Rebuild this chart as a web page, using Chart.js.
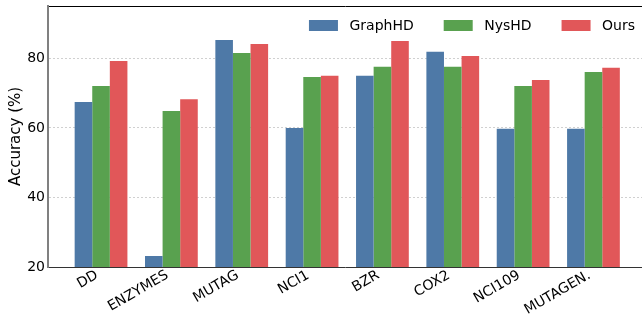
<!DOCTYPE html>
<html>
<head>
<meta charset="utf-8">
<script src="https://cdn.jsdelivr.net/npm/chart.js@4.4.1/dist/chart.umd.min.js"></script>
<style>
    html, body { margin: 0; padding: 0; background: #fff; }
    #wrap { width: 642px; height: 320px; position: relative; }
</style>
</head>
<body>
<div id="wrap"><canvas id="chart"></canvas></div>
<script>
const categories = ['DD', 'ENZYMES', 'MUTAG', 'NCI1', 'BZR', 'COX2', 'NCI109', 'MUTAGEN.'];
const graphHD = [67.5, 23.2, 85.3, 60.0, 75.0, 81.9, 59.8, 59.8];
const nysHD = [72.1, 64.9, 81.6, 74.7, 77.6, 77.6, 72.1, 76.1];
const ours = [79.3, 68.3, 84.2, 75.0, 85.0, 80.7, 73.8, 77.3];
const yTicks = [20, 40, 60, 80];

const toPoints = vals => vals.map((v, i) => ({ x: i, y: v }));

// legend drawn inside the plot, top right, like the matplotlib one
const insideLegend = {
    id: 'insideLegend',
    afterDraw(chart) {
        const ctx = chart.ctx;
        const area = chart.chartArea;
        const boxW = 29, boxH = 11, textGap = 11.5, itemGap = 30;
        ctx.save();
        ctx.font = '14px "DejaVu Sans"';
        ctx.textBaseline = 'middle';
        ctx.textAlign = 'left';
        const items = chart.data.datasets.map(ds => ({
            label: ds.label,
            color: ds.backgroundColor,
            w: ctx.measureText(ds.label).width
        }));
        let total = 0;
        items.forEach((it, i) => {
            total += boxW + textGap + it.w + (i < items.length - 1 ? itemGap : 0);
        });
        let x = area.right - 7 - total;
        const y = area.top + 14;
        items.forEach(it => {
            ctx.fillStyle = it.color;
            ctx.fillRect(x, y, boxW, boxH);
            ctx.fillStyle = '#000';
            ctx.fillText(it.label, x + boxW + textGap, y + boxH / 2 + 0.5);
            x += boxW + textGap + it.w + itemGap;
        });
        ctx.restore();
    }
};

Chart.defaults.font.family = '"DejaVu Sans", sans-serif';
Chart.defaults.font.size = 14;
Chart.defaults.color = '#000';

new Chart(document.getElementById('chart'), {
    type: 'bar',
    data: {
        datasets: [{
            label: 'GraphHD',
            data: toPoints(graphHD),
            backgroundColor: '#4e79a7'
        }, {
            label: 'NysHD',
            data: toPoints(nysHD),
            backgroundColor: '#59a14f'
        }, {
            label: 'Ours',
            data: toPoints(ours),
            backgroundColor: '#e15759'
        }]
    },
    options: {
        responsive: true,
        maintainAspectRatio: false,
        animation: false,
        categoryPercentage: 0.75,
        barPercentage: 1.0,
        layout: { padding: { top: 6, left: 0, right: 0, bottom: 0 } },
        plugins: {
            legend: { display: false },
            tooltip: { enabled: false }
        },
        scales: {
            x: {
                type: 'linear',
                offset: false,
                min: -0.754,
                max: 7.69,
                grid: { display: false, offset: false },
                border: { color: '#333', width: 1 },
                ticks: {
                    autoSkip: false,
                    minRotation: 30,
                    maxRotation: 30,
                    padding: -8,
                    labelOffset: -4,
                    callback: value => categories[value]
                },
                afterBuildTicks: scale => {
                    scale.ticks = categories.map((c, i) => ({ value: i }));
                },
                afterFit: scale => {
                    scale.height = 53;
                    scale.paddingLeft = 0;
                    scale.paddingRight = 0;
                }
            },
            x2: {
                type: 'linear',
                position: 'top',
                min: 0,
                max: 1,
                grid: { display: false },
                ticks: { display: false },
                border: { color: '#000', width: 1 },
                afterFit: scale => { scale.height = 0; }
            },
            y: {
                min: 20,
                max: 95.1,
                ticks: {
                    stepSize: 20,
                    includeBounds: false,
                    padding: 3
                },
                afterBuildTicks: scale => {
                    scale.ticks = yTicks.map(v => ({ value: v }));
                },
                grid: {
                    drawTicks: false,
                    color: ctx => (ctx.tick && ctx.tick.value === 20) ? 'rgba(0,0,0,0)' : '#d0d0d0',
                    lineWidth: 1
                },
                border: { color: '#808080', width: 2, dash: [2, 2] },
                title: {
                    display: true,
                    text: 'Accuracy (%)',
                    font: { size: 15 },
                    padding: { top: 7, bottom: 0 }
                },
                afterFit: scale => {
                    scale.width = 48;
                    scale.paddingTop = 0;
                    scale.paddingBottom = 0;
                }
            }
        }
    },
    plugins: [insideLegend]
});
</script>
</body>
</html>
